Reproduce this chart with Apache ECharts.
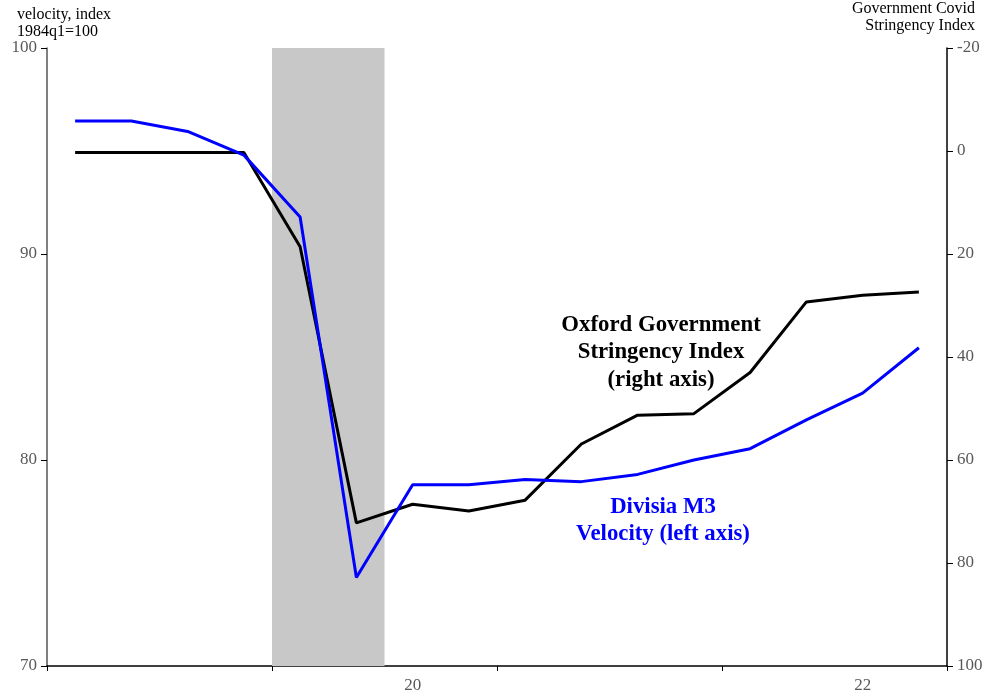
<!DOCTYPE html>
<html>
<head>
<meta charset="utf-8">
<script src="https://cdn.jsdelivr.net/npm/echarts@6/dist/echarts.min.js"></script>
<style>html,body{margin:0;padding:0;background:#fff;}#c{width:987px;height:700px;}</style>
</head>
<body>
<div id="c"></div>
<script>
var quarters = ['2019Q1','2019Q2','2019Q3','2019Q4','2020Q1','2020Q2','2020Q3','2020Q4',
                '2021Q1','2021Q2','2021Q3','2021Q4','2022Q1','2022Q2','2022Q3','2022Q4'];
var velocity = [96.46, 96.46, 95.95, 94.8, 91.8, 74.3, 78.8, 78.8, 79.05, 78.95, 79.3, 80.0, 80.55, 81.95, 83.25, 85.45];
var stringency = [0.3, 0.3, 0.3, 0.3, 18.6, 72.2, 68.6, 69.9, 67.8, 56.9, 51.3, 51.0, 43.0, 29.3, 28.0, 27.4];
var recession = ['2020Q1', '2020Q2'];
var yearLabels = {'2020Q3': '20', '2022Q3': '22'};
var leftTicks = {min: 70, max: 100, step: 10};
var rightTicks = {min: -20, max: 100, step: 20};

function pos(q) { return quarters.indexOf(q); }
function pairs(arr) { return arr.map(function (v, i) { return [i + 0.5, v]; }); }
var labelAt = {};
Object.keys(yearLabels).forEach(function (q) { labelAt[(pos(q) + 0.5).toFixed(1)] = yearLabels[q]; });

var serif = 'Liberation Serif';
var chart = echarts.init(document.getElementById('c'));
chart.setOption({
  animation: false,
  backgroundColor: '#fff',
  grid: {left: 47, right: 40, top: 48, bottom: 34},
  xAxis: [{
    type: 'value', min: 0, max: quarters.length, interval: 4,
    axisLine: {show: true, onZero: false, lineStyle: {color: '#000', width: 1.5}},
    axisTick: {show: true, inside: false, length: 5, lineStyle: {color: '#000', width: 1}},
    axisLabel: {show: false}, splitLine: {show: false}
  }, {
    type: 'value', min: 0, max: quarters.length, interval: 0.5, position: 'bottom',
    axisLine: {show: false, onZero: false}, axisTick: {show: false}, splitLine: {show: false},
    axisLabel: {show: true, margin: 11, color: '#595959', fontFamily: serif, fontSize: 17,
      formatter: function (v) { return labelAt[v.toFixed(1)] || ''; }}
  }],
  yAxis: [{
    type: 'value', min: leftTicks.min, max: leftTicks.max, interval: leftTicks.step, position: 'left',
    axisLine: {show: true, onZero: false, lineStyle: {color: '#555', width: 1.5}},
    axisTick: {show: true, inside: false, length: 6, lineStyle: {color: '#000'}},
    axisLabel: {color: '#595959', fontFamily: serif, fontSize: 17, margin: 10},
    splitLine: {show: false}
  }, {
    type: 'value', inverse: true, min: rightTicks.min, max: rightTicks.max, interval: rightTicks.step,
    position: 'right',
    axisLine: {show: true, onZero: false, lineStyle: {color: '#000', width: 1.5}},
    axisTick: {show: true, inside: false, length: 6, lineStyle: {color: '#000'}},
    axisLabel: {color: '#595959', fontFamily: serif, fontSize: 17, margin: 10},
    splitLine: {show: false}
  }],
  series: [{
    type: 'line', xAxisIndex: 0, yAxisIndex: 0, data: [], z: 1, silent: true,
    markArea: {silent: true, itemStyle: {color: '#c8c8c8'},
      data: [[{xAxis: pos(recession[0])}, {xAxis: pos(recession[1]) + 1}]]}
  }, {
    name: 'Oxford Government Stringency Index', type: 'line', xAxisIndex: 0, yAxisIndex: 1,
    data: pairs(stringency), showSymbol: false, z: 3,
    lineStyle: {color: '#000', width: 3}
  }, {
    name: 'Divisia M3 Velocity', type: 'line', xAxisIndex: 0, yAxisIndex: 0,
    data: pairs(velocity), showSymbol: false, z: 4,
    lineStyle: {color: '#0000ff', width: 3}
  }],
  graphic: [
    {type: 'text', x: 17, y: 6, style: {text: 'velocity, index\n1984q1=100', fontFamily: serif, fontSize: 16, lineHeight: 17, fill: '#000', align: 'left', verticalAlign: 'top'}},
    {type: 'text', x: 975, y: 0, style: {text: 'Government Covid\nStringency Index', fontFamily: serif, fontSize: 16, lineHeight: 17, fill: '#000', align: 'right', verticalAlign: 'top'}},
    {type: 'text', x: 661, y: 311, style: {text: 'Oxford Government\nStringency Index\n(right axis)', fontFamily: serif, fontSize: 22.8, fontWeight: 'bold', lineHeight: 27.5, fill: '#000', align: 'center', verticalAlign: 'top'}},
    {type: 'text', x: 663, y: 494, style: {text: 'Divisia M3\nVelocity (left axis)', fontFamily: serif, fontSize: 22.8, fontWeight: 'bold', lineHeight: 27, fill: '#0000ff', align: 'center', verticalAlign: 'top'}}
  ]
});
</script>
</body>
</html>
